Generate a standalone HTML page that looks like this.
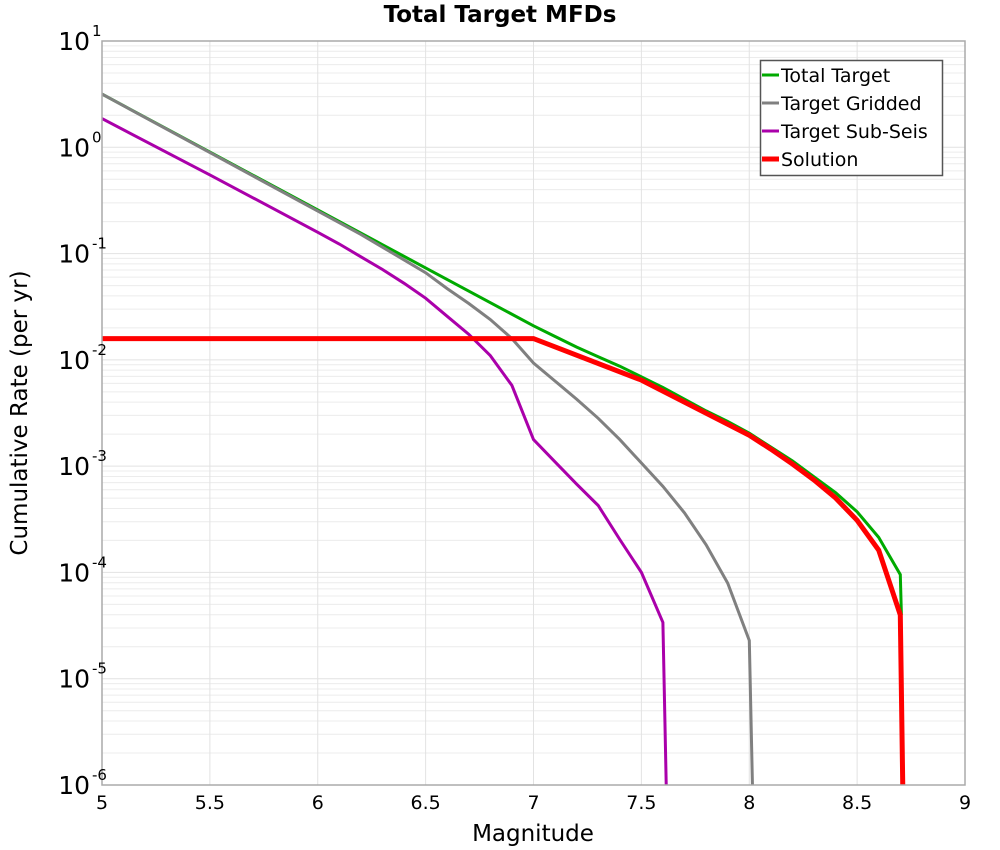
<!DOCTYPE html>
<html><head><meta charset="utf-8"><style>
body{margin:0;background:#fff;}
svg{display:block;font-family:"DejaVu Sans","Liberation Sans",sans-serif;}
</style></head><body>
<svg id="chart" width="1000" height="850" viewBox="0 0 1000 850"></svg>
<script>
const xTicks = [5, 5.5, 6, 6.5, 7, 7.5, 8, 8.5, 9];
const xTickLabels = ["5", "5.5", "6", "6.5", "7", "7.5", "8", "8.5", "9"];
const yDecades = [1, 0, -1, -2, -3, -4, -5, -6];

const totalMag = [5, 5.5, 6, 6.5, 7, 7.1, 7.2, 7.3, 7.4, 7.5, 7.6, 7.7, 7.8, 7.9, 8.0, 8.1, 8.2, 8.3, 8.4, 8.5, 8.6, 8.7, 8.705];
const totalLog = [0.50, -0.045, -0.59, -1.135, -1.68, -1.78, -1.88, -1.97, -2.06, -2.16, -2.26, -2.37, -2.48, -2.58, -2.69, -2.82, -2.95, -3.10, -3.25, -3.43, -3.67, -4.02, -4.40];

const griddedMag = [5, 5.5, 6, 6.1, 6.2, 6.3, 6.4, 6.5, 6.6, 6.7, 6.8, 6.9, 7.0, 7.1, 7.2, 7.3, 7.4, 7.5, 7.6, 7.7, 7.8, 7.9, 8.0, 8.02];
const griddedLog = [0.50, -0.05, -0.60, -0.71, -0.82, -0.94, -1.06, -1.18, -1.33, -1.47, -1.62, -1.80, -2.03, -2.20, -2.37, -2.55, -2.75, -2.97, -3.19, -3.44, -3.74, -4.10, -4.64, -6.5];

const subMag = [5, 5.5, 6, 6.1, 6.2, 6.3, 6.4, 6.5, 6.6, 6.7, 6.8, 6.9, 7.0, 7.1, 7.2, 7.3, 7.4, 7.5, 7.6, 7.62];
const subLog = [0.27, -0.26, -0.80, -0.91, -1.03, -1.15, -1.28, -1.42, -1.59, -1.76, -1.96, -2.24, -2.75, -2.96, -3.17, -3.37, -3.69, -4.00, -4.47, -6.5];

const solMag = [5, 5.5, 6, 6.5, 7.0, 7.5, 8.0, 8.1, 8.2, 8.3, 8.4, 8.5, 8.6, 8.7, 8.715];
const solLog = [-1.80, -1.80, -1.80, -1.80, -1.80, -2.19, -2.71, -2.84, -2.98, -3.13, -3.30, -3.51, -3.79, -4.40, -6.5];

const L = 102, R = 965, T = 41, B = 785;
const xMin = 5, xMax = 9, yMax = 1, yMin = -6;
const xs = m => L + (m - xMin) / (xMax - xMin) * (R - L);
const ys = lg => T + (yMax - lg) / (yMax - yMin) * (B - T);
const NS = "http://www.w3.org/2000/svg";
const svg = document.getElementById("chart");
function mk(tag, attrs, parent) {
  const e = document.createElementNS(NS, tag);
  for (const k in attrs) e.setAttribute(k, attrs[k]);
  (parent || svg).appendChild(e);
  return e;
}
const defs = mk("defs", {});
const cp = mk("clipPath", {id: "pc"}, defs);
mk("rect", {x: L, y: T, width: R - L, height: B - T}, cp);

const grid = mk("g", {});


for (let d = yMin; d < yMax; d++) {
  for (let k = 2; k <= 9; k++) {
    const y = ys(d + Math.log10(k));
    mk("line", {x1: L, x2: R, y1: y, y2: y, stroke: "#ececec", "stroke-width": 1}, grid);
  }
}
yDecades.forEach(d => {
  const y = ys(d);
  mk("line", {x1: L, x2: R, y1: y, y2: y, stroke: "#e2e2e2", "stroke-width": 1}, grid);
});
xTicks.forEach(m => {
  const x = xs(m);
  mk("line", {x1: x, x2: x, y1: T, y2: B, stroke: "#e2e2e2", "stroke-width": 1}, grid);
});

function series(mags, logs, color, w, name) {
  const pts = mags.map((m, i) => xs(m).toFixed(1) + "," + ys(logs[i]).toFixed(1)).join(" ");
  const p = mk("polyline", {points: pts, fill: "none", stroke: color, "stroke-width": w, "stroke-linejoin": "miter", "clip-path": "url(#pc)"});
  
  
}
series(totalMag, totalLog, "#00aa00", 3, "total-target-line");
series(griddedMag, griddedLog, "#808080", 3, "target-gridded-line");
series(subMag, subLog, "#aa00aa", 3, "target-sub-seis-line");
series(solMag, solLog, "#ff0000", 5, "solution-line");

const fr = mk("rect", {x: L, y: T, width: R - L, height: B - T, fill: "none", stroke: "#aaaaaa", "stroke-width": 1.5});



xTicks.forEach((m, i) => {
  const t = mk("text", {x: xs(m), y: 809, "text-anchor": "middle", "font-size": 19, fill: "#000"});
  t.textContent = xTickLabels[i];
  
  
});
yDecades.forEach(d => {
  const y = ys(d);
  const t = mk("text", {x: 90, y: y + 9, "text-anchor": "end", "font-size": 25, fill: "#000"});
  t.textContent = "10";
  
  
  const s = mk("text", {x: 92, y: y - 5, "font-size": 15, fill: "#000"});
  s.textContent = String(d);
  
  
});
</script>
<svg width="1000" height="850" style="position:absolute;left:0;top:0">
  <text x="500" y="22" text-anchor="middle" font-size="23" font-weight="bold" font-family="DejaVu Sans, Liberation Sans, sans-serif">Total Target MFDs</text>
  <text x="533" y="841" text-anchor="middle" font-size="23" font-family="DejaVu Sans, Liberation Sans, sans-serif">Magnitude</text>
  <text transform="translate(27,413) rotate(-90)" text-anchor="middle" font-size="23" font-family="DejaVu Sans, Liberation Sans, sans-serif">Cumulative Rate (per yr)</text>
  <g font-family="DejaVu Sans, Liberation Sans, sans-serif" font-size="19">
    <rect x="760.5" y="60.5" width="182" height="115" fill="#fff" stroke="#555" stroke-width="1.5"/>
    <line x1="762" x2="779" y1="75" y2="75" stroke="#00aa00" stroke-width="3"/>
    <text x="781" y="82">Total Target</text>
    <line x1="762" x2="779" y1="103" y2="103" stroke="#808080" stroke-width="3"/>
    <text x="781" y="110">Target Gridded</text>
    <line x1="762" x2="779" y1="131" y2="131" stroke="#aa00aa" stroke-width="3"/>
    <text x="781" y="138">Target Sub-Seis</text>
    <line x1="762" x2="779" y1="159" y2="159" stroke="#ff0000" stroke-width="5"/>
    <text x="781" y="166">Solution</text>
  </g>
</svg>
</body></html>
